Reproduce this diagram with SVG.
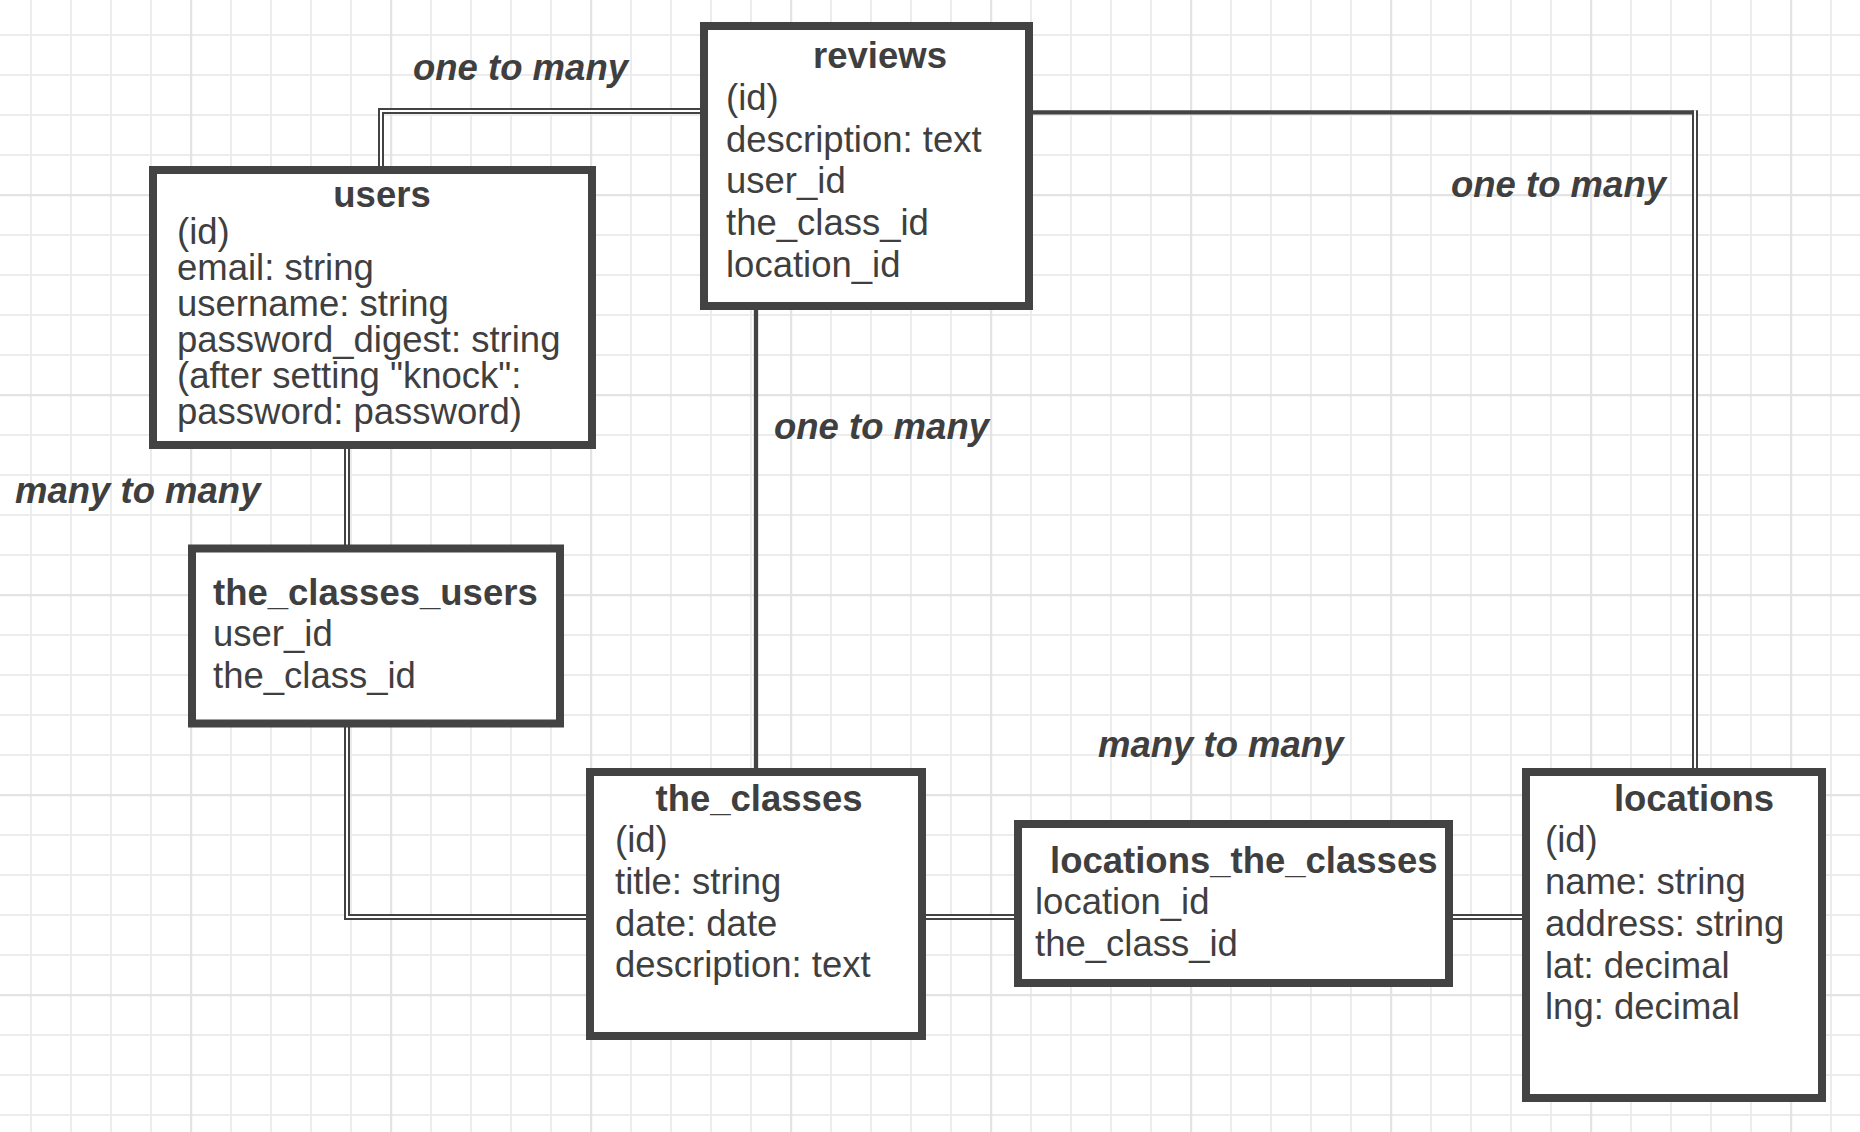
<svg xmlns="http://www.w3.org/2000/svg" width="1860" height="1132" viewBox="0 0 1860 1132">
  <defs>
    <pattern id="minor" patternUnits="userSpaceOnUse" x="30" y="34" width="40" height="40">
      <path d="M1 0 V40 M0 1 H40" stroke="#ececec" stroke-width="2" fill="none"/>
    </pattern>
    <pattern id="major" patternUnits="userSpaceOnUse" x="190" y="194" width="200" height="200">
      <path d="M1 0 V200 M0 1 H200" stroke="#e3e3e3" stroke-width="2.5" fill="none"/>
    </pattern>
    <style>
      .box { fill: #ffffff; stroke: #434343; stroke-width: 8; }
      .t { font-family: "Liberation Sans", Arial, sans-serif; font-size: 36.5px; fill: #3f3f3f; }
      .title { font-weight: bold; }
      .mid { text-anchor: middle; }
      .lbl { font-family: "Liberation Sans", Arial, sans-serif; font-size: 36.5px; font-weight: bold; font-style: italic; fill: #3f3f3f; }
      .dbl-o { fill: none; stroke: #434343; stroke-width: 6; stroke-linejoin: miter; }
      .dbl-i { fill: none; stroke: #ffffff; stroke-width: 2; stroke-linejoin: miter; }
      .single { fill: none; stroke: #434343; stroke-width: 4.3; }
    </style>
  </defs>

  <rect x="0" y="0" width="1860" height="1132" fill="#ffffff"/>
  <rect x="0" y="0" width="1860" height="1132" fill="url(#minor)"/>
  <rect x="0" y="0" width="1860" height="1132" fill="url(#major)"/>

  <g id="connectors">
    <!-- users - reviews -->
    <path class="dbl-o" d="M381 170 V111 H704"/>
    <path class="dbl-i" d="M381 170 V111 H704"/>
    <!-- users - the_classes_users -->
    <path class="dbl-o" d="M347 445 V549"/>
    <path class="dbl-i" d="M347 445 V549"/>
    <!-- the_classes_users - the_classes -->
    <path class="dbl-o" d="M347 724 V917 H590"/>
    <path class="dbl-i" d="M347 724 V917 H590"/>
    <!-- reviews - the_classes -->
    <path class="single" d="M756 306 V772"/>
    <!-- reviews - locations -->
    <path class="single" d="M1029 112.3 H1693"/>
    <path class="dbl-o" d="M1695 110.3 V772"/>
    <path class="dbl-i" d="M1695 110.3 V772"/>
    <!-- the_classes - locations_the_classes -->
    <path class="dbl-o" d="M922 917 H1018"/>
    <path class="dbl-i" d="M922 917 H1018"/>
    <!-- locations_the_classes - locations -->
    <path class="dbl-o" d="M1449 917 H1526"/>
    <path class="dbl-i" d="M1449 917 H1526"/>
  </g>

  <g id="labels">
    <text class="lbl" x="413" y="80">one to many</text>
    <text class="lbl" x="1451" y="197">one to many</text>
    <text class="lbl" x="774" y="439">one to many</text>
    <text class="lbl" x="15" y="503">many to many</text>
    <text class="lbl" x="1098" y="757">many to many</text>
  </g>

  <g id="users">
    <rect class="box" x="153" y="170" width="439" height="275"/>
    <text class="t title mid" x="382" y="207">users</text>
    <text class="t" x="177" y="244">(id)</text>
    <text class="t" x="177" y="280">email: string</text>
    <text class="t" x="177" y="316">username: string</text>
    <text class="t" x="177" y="352">password_digest: string</text>
    <text class="t" x="177" y="388">(after setting "knock":</text>
    <text class="t" x="177" y="424">password: password)</text>
  </g>

  <g id="reviews">
    <rect class="box" x="704" y="26" width="325" height="280"/>
    <text class="t title mid" x="880" y="68">reviews</text>
    <text class="t" x="726" y="110">(id)</text>
    <text class="t" x="726" y="151.7">description: text</text>
    <text class="t" x="726" y="193.4">user_id</text>
    <text class="t" x="726" y="235">the_class_id</text>
    <text class="t" x="726" y="276.7">location_id</text>
  </g>

  <g id="the_classes_users">
    <rect class="box" x="192" y="548.5" width="368" height="175"/>
    <text class="t title" x="213" y="604.7">the_classes_users</text>
    <text class="t" x="213" y="646.4">user_id</text>
    <text class="t" x="213" y="688">the_class_id</text>
  </g>

  <g id="the_classes">
    <rect class="box" x="590" y="772" width="332" height="264"/>
    <text class="t title mid" x="759" y="810.6">the_classes</text>
    <text class="t" x="615" y="852.3">(id)</text>
    <text class="t" x="615" y="894">title: string</text>
    <text class="t" x="615" y="935.7">date: date</text>
    <text class="t" x="615" y="977.4">description: text</text>
  </g>

  <g id="locations_the_classes">
    <rect class="box" x="1018" y="824" width="431" height="159"/>
    <text class="t title" x="1050" y="872.7">locations_the_classes</text>
    <text class="t" x="1035" y="914.4">location_id</text>
    <text class="t" x="1035" y="956">the_class_id</text>
  </g>

  <g id="locations">
    <rect class="box" x="1526" y="772" width="296" height="326"/>
    <text class="t title mid" x="1694" y="810.7">locations</text>
    <text class="t" x="1545" y="852.4">(id)</text>
    <text class="t" x="1545" y="894">name: string</text>
    <text class="t" x="1545" y="935.8">address: string</text>
    <text class="t" x="1545" y="977.5">lat: decimal</text>
    <text class="t" x="1545" y="1019">lng: decimal</text>
  </g>
</svg>
